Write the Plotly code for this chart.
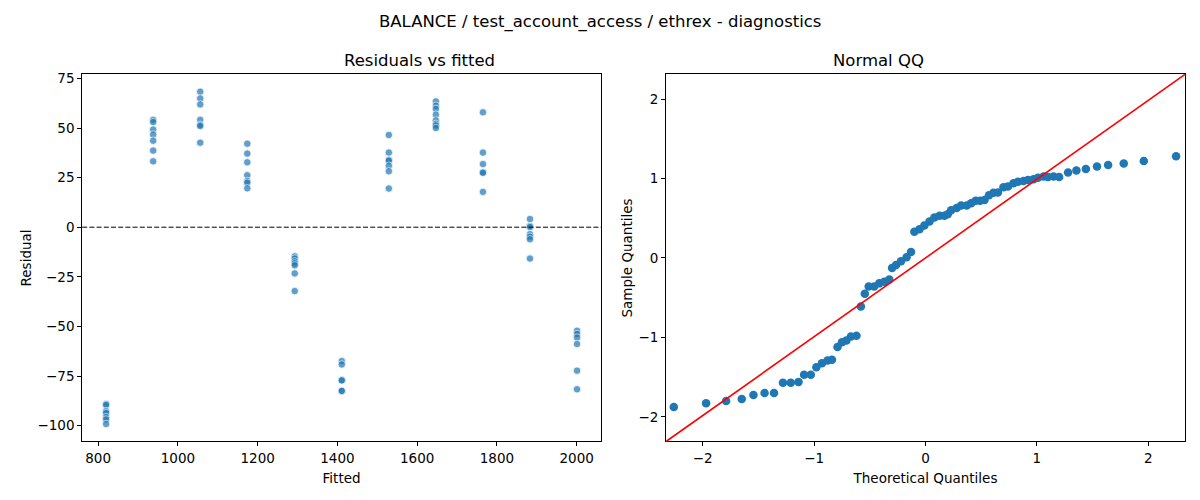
import plotly.graph_objects as go

# fitted level of each group and the residuals read at that level
fitted_levels = [820, 938, 1056, 1174, 1293, 1411, 1529, 1647, 1765, 1883, 2001]
residuals_by_level = [
    [-89.1, -89.6, -92.7, -93.6, -95.7, -96.9, -99.2],
    [54.1, 53.0, 49.2, 46.7, 43.6, 38.6, 33.2],
    [68.3, 64.9, 61.9, 54.1, 51.6, 51.0, 42.6],
    [42.1, 37.1, 32.7, 26.2, 23.3, 22.4, 19.6],
    [-14.7, -15.8, -17.2, -18.2, -19.2, -23.3, -32.2],
    [-67.5, -69.2, -77.2, -77.2, -82.5, -82.5],
    [46.5, 37.6, 34.0, 33.5, 31.0, 28.2, 19.5],
    [63.4, 61.2, 59.6, 56.7, 53.8, 52.1, 51.3, 50.0],
    [57.9, 37.6, 31.8, 27.7, 27.4, 17.8],
    [4.1, 0.6, 0.1, -3.5, -4.8, -6.1, -15.8],
    [-52.2, -53.8, -55.6, -58.9, -72.3, -81.7],
]

# normal QQ points
theoretical_q = [-2.26, -1.97, -1.79, -1.65, -1.545, -1.445, -1.36, -1.28, -1.21, -1.14,
                 -1.09, -1.03, -0.98, -0.93, -0.88, -0.84, -0.79, -0.75, -0.71, -0.67,
                 -0.62, -0.58, -0.545, -0.51, -0.46, -0.415, -0.37, -0.325, -0.30, -0.265,
                 -0.22, -0.17, -0.13, -0.10, -0.054, -0.01, 0.036, 0.08, 0.126, 0.17,
                 0.20, 0.23, 0.28, 0.32, 0.37, 0.41, 0.45, 0.49, 0.53, 0.57,
                 0.61, 0.65, 0.70, 0.74, 0.79, 0.83, 0.88, 0.92, 0.97, 1.01,
                 1.06, 1.10, 1.15, 1.20, 1.28, 1.355, 1.44, 1.54, 1.64, 1.78,
                 1.96, 2.25]
sample_q = [-1.875, -1.83, -1.80, -1.775, -1.725, -1.70, -1.70, -1.57, -1.57, -1.56,
            -1.47, -1.47, -1.375, -1.325, -1.29, -1.28, -1.12, -1.06, -1.04, -0.99,
            -0.98, -0.61, -0.45, -0.36, -0.36, -0.32, -0.30, -0.27, -0.125, -0.09,
            -0.04, 0.01, 0.075, 0.33, 0.36, 0.41, 0.46, 0.51, 0.53, 0.53,
            0.55, 0.60, 0.63, 0.66, 0.66, 0.69, 0.72, 0.72, 0.73, 0.79,
            0.82, 0.825, 0.89, 0.90, 0.94, 0.96, 0.97, 0.98, 0.99, 1.01,
            1.025, 1.02, 1.025, 1.02, 1.075, 1.10, 1.12, 1.15, 1.17, 1.19,
            1.22, 1.28]

fitted = []
residual = []
for lvl, vals in zip(fitted_levels, residuals_by_level):
    fitted += [lvl] * len(vals)
    residual += vals

BLUE = '#1f77b4'
FONT = 'DejaVu Sans'

fig = go.Figure()

fig.add_trace(go.Scatter(
    x=fitted, y=residual, mode='markers', xaxis='x', yaxis='y',
    marker=dict(color=BLUE, size=7.5, opacity=0.7, line=dict(color='white', width=0.8)),
    showlegend=False))

fig.add_trace(go.Scatter(
    x=theoretical_q, y=sample_q, mode='markers', xaxis='x2', yaxis='y2',
    marker=dict(color=BLUE, size=8.5), showlegend=False))

axis_style = dict(showline=True, linecolor='black', linewidth=1, mirror=True,
                  ticks='outside', ticklen=4, tickcolor='black', showgrid=False,
                  zeroline=False, tickfont=dict(size=13.5, color='black'),
                  title_font=dict(size=13.5, color='black'))

ydom = [0.118, 0.858]
fig.update_layout(
    width=1200, height=500,
    margin=dict(l=0, r=0, t=0, b=0),
    plot_bgcolor='white', paper_bgcolor='white',
    font=dict(family=FONT, color='black'),
    xaxis=dict(domain=[0.0685, 0.5008], range=[760, 2061], tickvals=[800, 1000, 1200, 1400, 1600, 1800, 2000],
               title=dict(text='Fitted', standoff=8), anchor='y', **axis_style),
    yaxis=dict(domain=ydom, range=[-108, 77], tickvals=[-100, -75, -50, -25, 0, 25, 50, 75],
               title=dict(text='Residual', standoff=2), anchor='x', **axis_style),
    xaxis2=dict(domain=[0.555, 0.9875], range=[-2.33, 2.33], tickvals=[-2, -1, 0, 1, 2],
                title=dict(text='Theoretical Quantiles', standoff=8), anchor='y2', **axis_style),
    yaxis2=dict(domain=ydom, range=[-2.31, 2.31], tickvals=[-2, -1, 0, 1, 2],
                title=dict(text='Sample Quantiles', standoff=2), anchor='x2', **axis_style),
)

# dashed zero line on the residual plot
fig.add_shape(type='line', xref='x domain', yref='y', x0=0, x1=1, y0=0, y1=0,
              line=dict(color='black', width=1, dash='5px,2.2px'))
# 45 degree reference line on the QQ plot (axes share the same range)
fig.add_shape(type='line', xref='x2 domain', yref='y2 domain', x0=0, y0=0, x1=1, y1=1,
              line=dict(color='red', width=1.6))

fig.add_annotation(text='BALANCE / test_account_access / ethrex - diagnostics', xref='paper', yref='paper',
                   x=0.5, y=0.964, yanchor='middle', showarrow=False, font=dict(size=16.5))
fig.add_annotation(text='Residuals vs fitted', xref='paper', yref='paper', x=(0.0685 + 0.5008) / 2,
                   y=0.858, yanchor='bottom', yshift=2, showarrow=False, font=dict(size=16.5))
fig.add_annotation(text='Normal QQ', xref='paper', yref='paper', x=(0.555 + 0.9875) / 2,
                   y=0.858, yanchor='bottom', yshift=2, showarrow=False, font=dict(size=16.5))

# drop the browser's default page margin so the figure sits at the window corner
fig.write_html('out.html', config={'displayModeBar': False},
               post_script="document.body.style.margin='0px';")
